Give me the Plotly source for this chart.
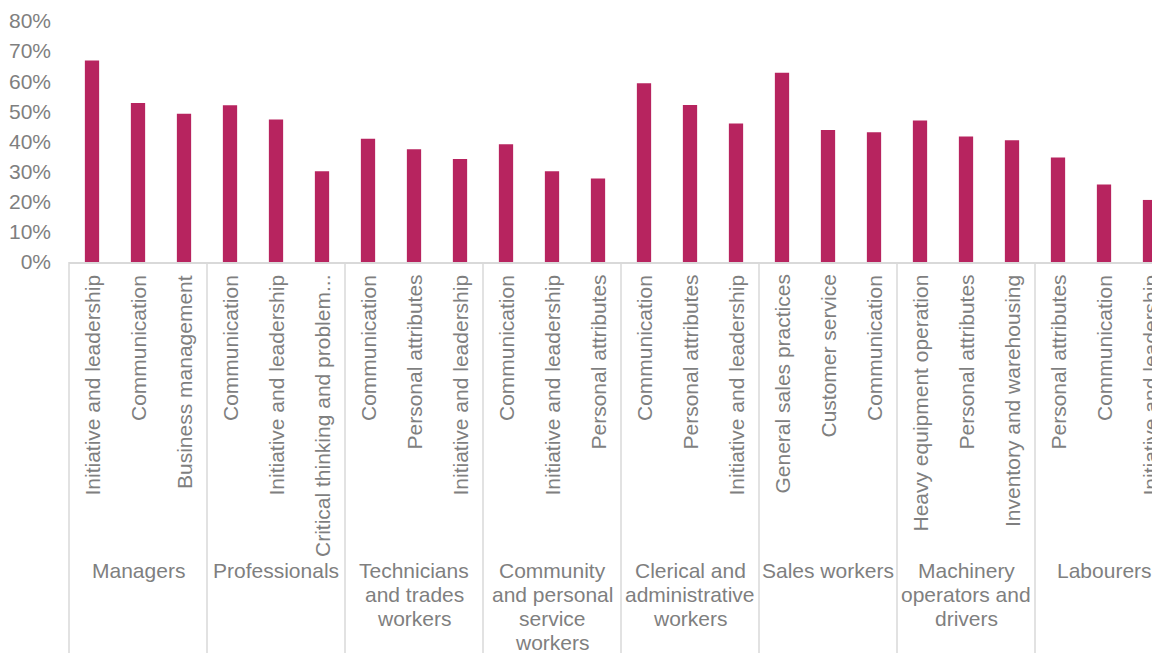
import plotly.graph_objects as go

groups = ["Managers", "Professionals", "Technicians<br>and trades<br>workers",
          "Community<br>and personal<br>service<br>workers",
          "Clerical and<br>administrative<br>workers", "Sales workers",
          "Machinery<br>operators and<br>drivers", "Labourers"]

skills = [
    "Initiative and leadership", "Communication", "Business management",
    "Communication", "Initiative and leadership", "Critical thinking and problem...",
    "Communication", "Personal attributes", "Initiative and leadership",
    "Communication", "Initiative and leadership", "Personal attributes",
    "Communication", "Personal attributes", "Initiative and leadership",
    "General sales practices", "Customer service", "Communication",
    "Heavy equipment operation", "Personal attributes", "Inventory and warehousing",
    "Personal attributes", "Communication", "Initiative and leadership",
]

values = [
    0.669, 0.528, 0.492,
    0.520, 0.473, 0.301,
    0.409, 0.374, 0.342,
    0.391, 0.301, 0.277,
    0.593, 0.521, 0.460,
    0.628, 0.438, 0.431,
    0.470, 0.417, 0.404,
    0.347, 0.257, 0.206,
]

per_group = 3
FONT = "Liberation Sans, Arial, sans-serif"
GRAY = "#7F7F7F"
LINE = "#D9D9D9"
BAR = "#B7245F"

# page body has an 8px margin; compensate so the figure lands where the reference is
W, H = 1152, 645
ML, MR, MT, MB = 61, 0, 13, 391
unit = 46.0
xmin = -0.5
xmax = xmin + (W - ML - MR) / unit
plot_h = H - MT - MB

xs = list(range(len(values)))

fig = go.Figure(go.Bar(x=xs, y=values, width=0.31, marker=dict(color=BAR, line=dict(width=0)),
                       hoverinfo="skip"))

annotations = []
for i, s in enumerate(skills):
    annotations.append(dict(x=i, y=0, xref="x", yref="paper", text=s, showarrow=False,
                            textangle=-90, xanchor="center", yanchor="top", yshift=-11,
                            font=dict(family=FONT, size=21, color=GRAY)))

line_gap = 24
for g, name in enumerate(groups):
    cx = g * per_group + (per_group - 1) / 2
    for k, ln in enumerate(name.split("<br>")):
        annotations.append(dict(x=cx, y=0, xref="x", yref="paper", text=ln, showarrow=False,
                                xanchor="center", yanchor="top", yshift=-295 - k * line_gap,
                                font=dict(family=FONT, size=21, color=GRAY)))

shapes = []
bottom = -(MB + 5) / plot_h
for g in range(len(groups) + 1):
    pos = g * per_group - 0.5
    px = (pos - xmin) / (xmax - xmin)
    if px > 1.0:
        continue
    shapes.append(dict(type="line", xref="paper", yref="paper", x0=px, x1=px, y0=0, y1=bottom,
                       line=dict(color=LINE, width=1.5)))

fig.update_layout(
    width=W, height=H,
    margin=dict(l=ML, r=MR, t=MT, b=MB, pad=0),
    paper_bgcolor="white", plot_bgcolor="white",
    showlegend=False,
    annotations=annotations,
    shapes=shapes,
    font=dict(family=FONT, size=21, color=GRAY),
    xaxis=dict(range=[xmin, xmax], showticklabels=False, showgrid=False, zeroline=False,
               showline=True, linecolor=LINE, linewidth=1.5, ticks=""),
    yaxis=dict(range=[0, 0.8], dtick=0.1, tickformat=".0%", showgrid=False, zeroline=False,
               showline=False, ticks="", ticklabelstandoff=17,
               tickfont=dict(family=FONT, size=21, color=GRAY)),
)

fig.write_html("out.html")
